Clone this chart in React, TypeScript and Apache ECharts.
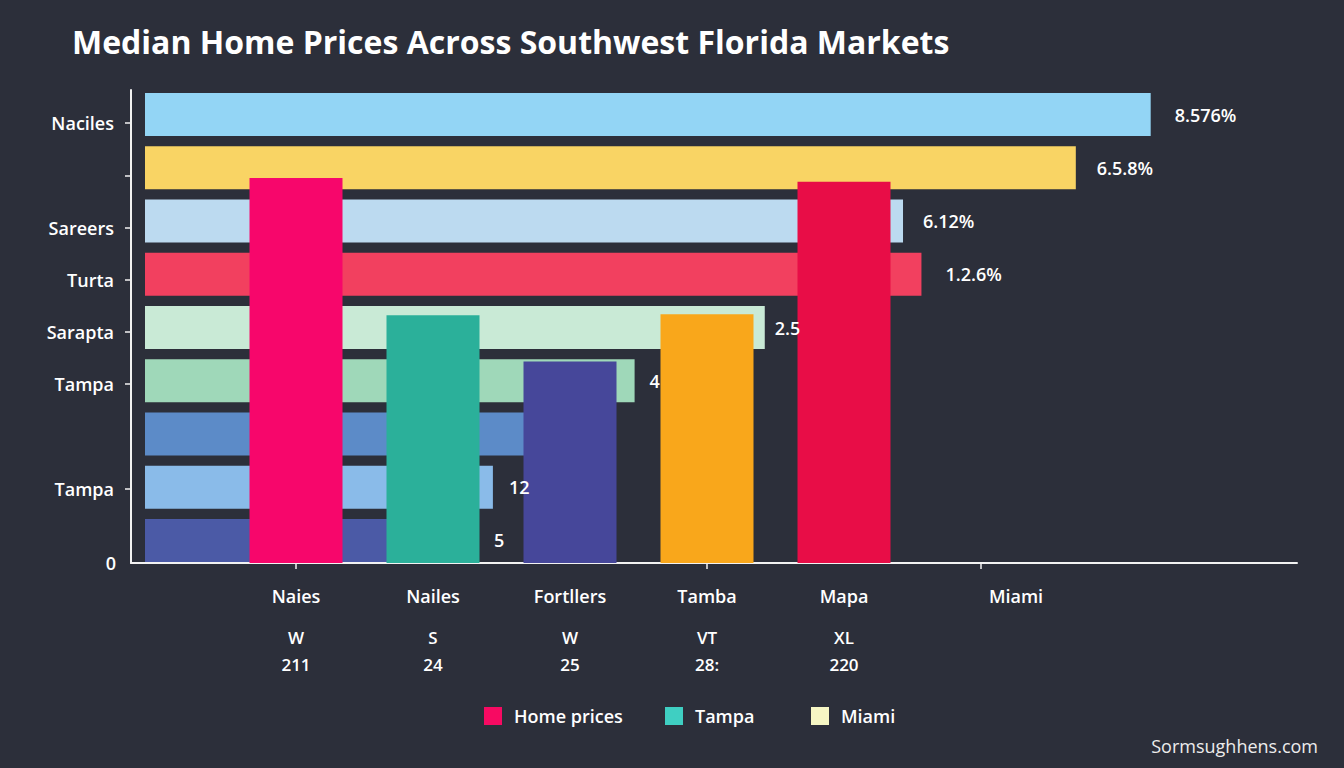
import React, { useEffect, useRef } from "react";
import * as echarts from "echarts";

// Horizontal bars (rows, top to bottom)
const rowLabels = ["Naciles", "", "Sareers", "Turta", "Sarapta", "Tampa", "", "Tampa", ""];
const rowHasTick = [true, true, true, true, true, true, false, true, false];
const rowValues = [87.3, 80.8, 65.8, 67.4, 53.8, 42.5, 36.0, 30.2, 28.9];
const rowValueLabels = ["8.576%", "6.5.8%", "6.12%", "1.2.6%", "2.5", "4", "", "12", "5"];
const rowColors = ["#93d5f5", "#f9d464", "#bcdaf0", "#f2405f", "#c9ead6", "#9fd8b9", "#5c8bc8", "#8abbe9", "#4b5aa6"];
const rowLabelGaps = [24, 21, 20, 24, 10, 15, 16, 16, 16];
const baseAxisLabel = "0";

// Vertical bars (markets)
const marketNames = ["Naies", "Nailes", "Fortllers", "Tamba", "Mapa", "Miami"];
const marketCodes = ["W", "S", "W", "VT", "XL", ""];
const marketNumbers = ["211", "24", "25", "28:", "220", ""];
const marketHasTick = [true, false, false, true, false, true];
const marketPrices = [407, 262, 213, 263, 403];
const marketColors = ["#f7066b", "#2bb09a", "#46479a", "#f9a71b", "#e80d47"];

const legendNames = ["Home prices", "Tampa", "Miami"];
const legendColors = ["#f70a62", "#3fcfc2", "#f6f6c4"];

const titleText = "Median Home Prices Across Southwest Florida Markets";
const watermarkText = "Sormsughhens.com";

const FONT = "'Open Sans', Lato, sans-serif";

export default function App() {
  const ref = useRef<HTMLDivElement>(null);
  useEffect(() => {
    if (!ref.current) return;
    const chart = echarts.init(ref.current, undefined, { renderer: "svg" });
    const white = "#f2f2f2";
    const option: any = {
      animation: false,
      backgroundColor: "#2c2f3a",
      textStyle: { fontFamily: FONT },
      title: {
        text: titleText,
        left: 72,
        top: 25,
        padding: 0,
        textStyle: { color: "#ffffff", fontSize: 32, fontWeight: "bold", fontFamily: FONT },
      },
      grid: [
        { left: 131, right: 47, top: 88, bottom: 201 },
        { left: 227.5, right: 294.5, top: 90, bottom: 205 },
        { left: 131, right: 47, top: 97, bottom: 201 },
      ],
      xAxis: [
        {
          type: "value",
          gridIndex: 0,
          min: -1.215,
          max: 100,
          offset: -4,
          axisLine: { show: true, onZero: false, lineStyle: { color: white, width: 2 } },
          axisTick: { show: false },
          axisLabel: { show: false },
          splitLine: { show: false },
        },
        {
          type: "category",
          gridIndex: 1,
          data: marketNames,
          axisLine: { show: false },
          axisTick: {
            show: true,
            alignWithLabel: true,
            length: 6,
            interval: (i: number) => marketHasTick[i],
            lineStyle: { color: white, width: 1.5 },
          },
          axisLabel: {
            interval: 0,
            margin: 4,
            formatter: (v: string, i: number) => {
              if (!marketCodes[i]) return `{m|${v}}`;
              return `{a|${v}}\n{b|${marketCodes[i]}}\n{b|${marketNumbers[i]}}`;
            },
            rich: {
              a: { color: "#ffffff", fontSize: 18, lineHeight: 57, fontWeight: 600, fontFamily: FONT },
              m: { color: "#ffffff", fontSize: 18, lineHeight: 57, fontWeight: 600, fontFamily: FONT, padding: [0, 0, 0, 70] },
              b: { color: "#ffffff", fontSize: 17, lineHeight: 27, fontWeight: 600, fontFamily: FONT },
            },
          },
        },
        {
          type: "value",
          gridIndex: 2,
          show: false,
          splitLine: { show: false },
        },
      ],
      yAxis: [
        {
          type: "category",
          gridIndex: 0,
          inverse: true,
          data: rowLabels.map((_, i) => String(i)),
          axisLine: { show: false },
          axisTick: { show: false },
          axisLabel: { show: false },
        },
        {
          type: "value",
          gridIndex: 1,
          min: 0,
          max: 500,
          offset: 96.5,
          axisLine: { show: true, lineStyle: { color: white, width: 2 } },
          axisTick: { show: false },
          axisLabel: { show: false },
          splitLine: { show: false },
        },
        {
          type: "category",
          gridIndex: 2,
          inverse: true,
          data: rowLabels.map((_, i) => String(i)),
          axisLine: { show: false, onZero: false },
          axisTick: {
            show: true,
            alignWithLabel: true,
            length: 6,
            interval: (i: number) => rowHasTick[i],
            lineStyle: { color: white, width: 1.5 },
          },
          axisLabel: {
            interval: 0,
            margin: 17,
            color: "#ffffff",
            fontSize: 18,
            fontWeight: 600,
            fontFamily: FONT,
            formatter: (_v: string, i: number) => rowLabels[i],
          },
        },
      ],
      legend: legendNames.map((n, i) => ({
        data: [n],
        left: [484, 665, 811][i],
        top: 707,
        padding: 0,
        itemWidth: 18,
        itemHeight: 18,
        icon: "rect",
        selectedMode: false,
        formatter: "{t|{name}}",
        textStyle: {
          color: "#ffffff",
          fontSize: 18,
          rich: { t: { color: "#ffffff", fontSize: 18, fontWeight: 600, fontFamily: FONT, padding: [0, 0, 0, 7] } },
        },
      })),
      series: [
        {
          name: "Miami",
          type: "bar",
          xAxisIndex: 0,
          yAxisIndex: 0,
          barWidth: 43,
          itemStyle: { color: legendColors[2] },
          data: rowValues.map((v, i) => ({
            value: v,
            itemStyle: { color: rowColors[i] },
            label: {
              show: rowValueLabels[i] !== "",
              position: "right",
              distance: rowLabelGaps[i],
              formatter: rowValueLabels[i],
              color: "#ffffff",
              fontSize: 18,
              fontWeight: 600,
              fontFamily: FONT,
            },
          })),
        },
        {
          name: "Tampa",
          type: "bar",
          xAxisIndex: 1,
          yAxisIndex: 1,
          itemStyle: { color: legendColors[1] },
          data: [],
        },
        {
          name: "Home prices",
          type: "bar",
          xAxisIndex: 1,
          yAxisIndex: 1,
          barWidth: 93,
          barGap: "-100%",
          itemStyle: { color: legendColors[0] },
          data: marketPrices.map((v, i) => ({ value: v, itemStyle: { color: marketColors[i] } })),
        },
      ],
      graphic: [
        {
          type: "text",
          x: 116,
          y: 563,
          style: { text: baseAxisLabel, fill: "#ffffff", fontSize: 18, fontWeight: 600, align: "right", verticalAlign: "middle", fontFamily: FONT },
        },
        {
          type: "text",
          right: 26,
          top: 737,
          style: { text: watermarkText, fill: "#ececec", fontSize: 18, fontFamily: FONT },
        },
      ],
    };
    chart.setOption(option);
    return () => chart.dispose();
  }, []);
  return <div ref={ref} style={{ position: "fixed", left: 0, top: 0, width: 1344, height: 768 }} />;
}
